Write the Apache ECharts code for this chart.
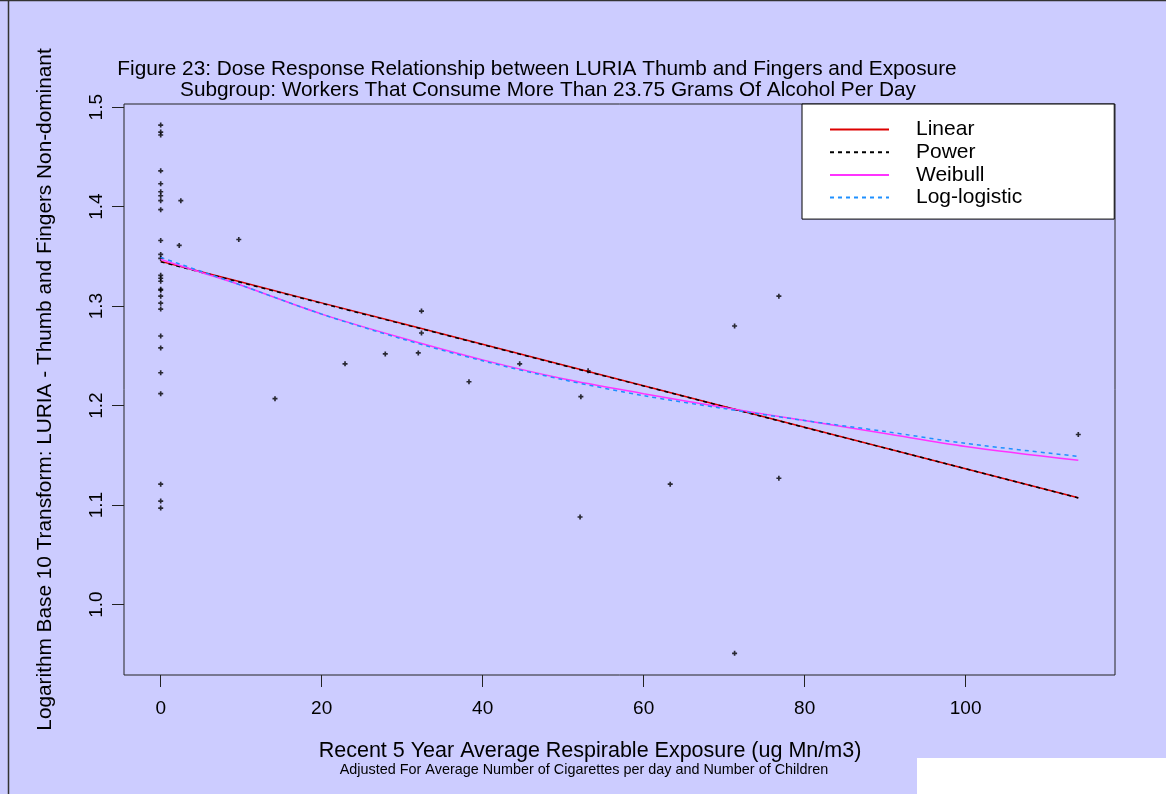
<!DOCTYPE html>
<html>
<head>
<meta charset="utf-8">
<script src="https://cdn.jsdelivr.net/npm/echarts@6/dist/echarts.min.js"></script>
<style>
  html, body { margin: 0; padding: 0; background: #ccccff; }
  #chart { width: 1166px; height: 794px; }
</style>
</head>
<body>
<div id="chart"></div>
<script>
// observed points: exposure (ug Mn/m3) and log10 LURIA score
var exposure = [
    0, 0, 0, 0, 0, 0, 0, 0, 0, 0, 0, 0, 0, 0, 0, 0, 0, 0, 0, 0, 0, 0, 0, 0, 0, 0, 0,
    2.5, 2.3, 9.7, 14.2, 22.9, 27.9, 32.0, 32.4, 32.4, 38.3, 44.6,
    52.2, 53.1, 52.1, 63.3, 71.3, 71.3, 76.8, 76.8, 114.0
];
var luria = [
    1.482, 1.475, 1.472, 1.436, 1.423, 1.415, 1.411, 1.406, 1.397, 1.366, 1.352, 1.348,
    1.331, 1.328, 1.325, 1.317, 1.316, 1.310, 1.303, 1.297, 1.270, 1.258, 1.233, 1.212,
    1.121, 1.104, 1.097,
    1.406, 1.361, 1.367, 1.207, 1.242, 1.252, 1.253, 1.295, 1.273, 1.224, 1.242,
    1.209, 1.235, 1.088, 1.121, 1.280, 0.951, 1.310, 1.127, 1.171
];

// fitted curves
var fitX = [0, 5, 10, 20, 30, 40, 50, 60, 70, 80, 90, 100, 114];
var linearFit  = [1.345, 1.3346, 1.3242, 1.3033, 1.2825, 1.2616, 1.2408, 1.2199, 1.1991, 1.1782, 1.1574, 1.1366, 1.1074];
var powerFit   = [1.3445, 1.3341, 1.3237, 1.3029, 1.2821, 1.2613, 1.2405, 1.2197, 1.1989, 1.1781, 1.1573, 1.1365, 1.1072];
var weibullFit = [1.347, 1.334, 1.321, 1.292, 1.268, 1.246, 1.227, 1.212, 1.198, 1.185, 1.172, 1.159, 1.145];
var loglogFit  = [1.349, 1.335, 1.321, 1.292, 1.267, 1.245, 1.226, 1.210, 1.197, 1.185, 1.174, 1.162, 1.149];

var xTicks = [0, 20, 40, 60, 80, 100];
var yTicks = [1.0, 1.1, 1.2, 1.3, 1.4, 1.5];

var FONT = "'Liberation Sans', Arial, sans-serif";

function pairs(xs, ys) {
    return xs.map(function (x, i) { return [x, ys[i]]; });
}

var myChart = echarts.init(document.getElementById('chart'));

var option = {
    backgroundColor: '#ccccff',
    animation: false,
    title: [{
        text: 'Figure 23: Dose Response Relationship between LURIA Thumb and Fingers and Exposure',
        left: 532, top: 53.5, textAlign: 'center',
        textStyle: {fontFamily: FONT, fontSize: 20.8, fontWeight: 'normal', color: '#000'}
    }, {
        text: 'Subgroup: Workers That Consume More Than 23.75 Grams Of Alcohol Per Day',
        left: 543, top: 75, textAlign: 'center',
        textStyle: {fontFamily: FONT, fontSize: 20.8, fontWeight: 'normal', color: '#000'}
    }, {
        text: 'Recent 5 Year Average Respirable Exposure (ug Mn/m3)',
        left: 585, top: 735, textAlign: 'center',
        textStyle: {fontFamily: FONT, fontSize: 21.5, fontWeight: 'normal', color: '#000'}
    }, {
        text: 'Adjusted For Average Number of Cigarettes per day and Number of Children',
        left: 579, top: 758, textAlign: 'center',
        textStyle: {fontFamily: FONT, fontSize: 14.4, fontWeight: 'normal', color: '#000'}
    }],
    legend: {
        data: ['Linear', 'Power', 'Weibull', 'Log-logistic'],
        orient: 'vertical',
        left: 802, top: 104,
        backgroundColor: '#fff',
        borderColor: '#000', borderWidth: 1, borderRadius: 0,
        padding: [15, 92, 11, 27],
        itemWidth: 59, itemHeight: 14, itemGap: 1.7,
        selectedMode: false,
        itemStyle: {opacity: 0},
        textStyle: {fontFamily: FONT, fontSize: 21, color: '#000', padding: [0, 0, 0, 22]}
    },
    grid: {
        left: 124, top: 104, right: 51, bottom: 119,
        show: true, borderColor: '#222', borderWidth: 1,
        backgroundColor: 'transparent'
    },
    xAxis: {
        type: 'value',
        min: -4.56, max: 118.56,
        axisLine: {show: false, onZero: false},
        splitLine: {show: false},
        axisTick: {show: true, length: 12, customValues: xTicks, lineStyle: {color: '#222'}},
        axisLabel: {customValues: xTicks, margin: 24, fontFamily: FONT, fontSize: 19, color: '#000'}
    },
    yAxis: {
        type: 'value',
        min: 0.9292, max: 1.5032,
        name: 'Logarithm Base 10 Transform: LURIA - Thumb and Fingers Non-dominant',
        nameLocation: 'middle', nameGap: 68, nameRotate: 90,
        nameTextStyle: {fontFamily: FONT, fontSize: 20.8, color: '#000'},
        axisLine: {show: false, onZero: false},
        splitLine: {show: false},
        axisTick: {show: true, length: 12, customValues: yTicks, lineStyle: {color: '#222'}},
        axisLabel: {
            customValues: yTicks, rotate: 90, margin: 18,
            fontFamily: FONT, fontSize: 19, color: '#000',
            formatter: function (v) { return v.toFixed(1); }
        }
    },
    graphic: [
        {type: 'line', shape: {x1: 8.5, y1: 0, x2: 8.5, y2: 794}, style: {stroke: '#333', lineWidth: 1.5}},
        {type: 'line', shape: {x1: 0, y1: 0.5, x2: 1166, y2: 0.5}, style: {stroke: '#333', lineWidth: 1.5}},
        {type: 'rect', shape: {x: 917, y: 758, width: 249, height: 36}, style: {fill: '#fff'}}
    ],
    series: [{
        name: 'points',
        type: 'scatter',
        symbol: 'path://M0,2 L6,2 L6,4 L0,4 Z M2,0 L4,0 L4,6 L2,6 Z',
        symbolSize: 5,
        itemStyle: {color: '#000'},
        data: pairs(exposure, luria)
    }, {
        name: 'Linear',
        type: 'line',
        symbol: 'none',
        lineStyle: {color: '#dd0000', width: 1.5},
        itemStyle: {color: '#dd0000'},
        data: pairs(fitX, linearFit)
    }, {
        name: 'Power',
        type: 'line',
        symbol: 'none',
        lineStyle: {color: '#000', width: 1.5, type: [4, 4]},
        itemStyle: {color: '#000'},
        data: pairs(fitX, powerFit)
    }, {
        name: 'Weibull',
        type: 'line',
        symbol: 'none',
        smooth: 0.3,
        lineStyle: {color: '#ff33ff', width: 1.5},
        itemStyle: {color: '#ff33ff'},
        data: pairs(fitX, weibullFit)
    }, {
        name: 'Log-logistic',
        type: 'line',
        symbol: 'none',
        smooth: 0.3,
        lineStyle: {color: '#1e90ff', width: 1.5, type: [4, 4]},
        itemStyle: {color: '#1e90ff'},
        data: pairs(fitX, loglogFit)
    }]
};

myChart.setOption(option);
</script>
</body>
</html>
